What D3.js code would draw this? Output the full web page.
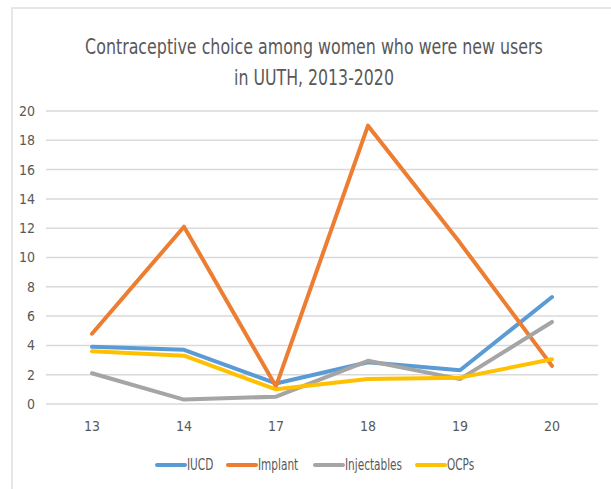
<!DOCTYPE html>
<html>
<head>
<meta charset="utf-8">
<script src="https://cdn.jsdelivr.net/npm/d3@7"></script>
<style>
  body { margin: 0; background: #fff; }
  svg text { font-family: "DejaVu Sans Condensed", "Liberation Sans Narrow", sans-serif; fill: #595959; }
</style>
</head>
<body>
<div id="chart"></div>
<script>
// data
const years = ["13", "14", "17", "18", "19", "20"];
const iucd = [3.9, 3.7, 1.4, 2.85, 2.3, 7.3];
const implant = [4.8, 12.1, 1.2, 19.0, 11.0, 2.6];
const injectables = [2.1, 0.3, 0.5, 2.95, 1.7, 5.6];
const ocps = [3.6, 3.3, 1.0, 1.7, 1.8, 3.05];
const yTicks = [0, 2, 4, 6, 8, 10, 12, 14, 16, 18, 20];
const titleLines = ["Contraceptive choice among women who were new users", "in UUTH, 2013-2020"];

const series = [
    { name: "IUCD", values: iucd, color: "#5B9BD5" },
    { name: "Implant", values: implant, color: "#ED7D31" },
    { name: "Injectables", values: injectables, color: "#A5A5A5" },
    { name: "OCPs", values: ocps, color: "#FFC000" }
];

const width = 611, height = 489;
const margin = {top: 111, right: 13, bottom: 85, left: 46};

const svg = d3.select("#chart")
    .append("svg")
    .attr("width", width)
    .attr("height", height);

// chart area border (only top and left visible in the crop)
svg.append("path")
    .attr("d", `M12,${height} L12,8 L${width},8`)
    .attr("fill", "none")
    .attr("stroke", "#e6e6e6")
    .attr("stroke-width", 2);

// title - squeeze horizontally to get the narrow Calibri look
const titleWidths = [458, 160];
const titleCx = 314;
svg.append("g")
    .selectAll("text")
    .data(titleLines)
    .join("text")
        .attr("x", 0)
        .attr("y", 0)
        .attr("text-anchor", "middle")
        .style("font-size", "21px")
        .text(d => d)
        .attr("transform", function(d, i) {
            const sx = titleWidths[i] / this.getComputedTextLength();
            return `translate(${titleCx}, ${54 + i * 31}) scale(${sx}, 1)`;
        });

const x = d3.scaleBand()
    .domain(years)
    .range([margin.left, width - margin.right]);

const y = d3.scaleLinear()
    .domain([0, 20])
    .range([height - margin.bottom, margin.top]);

// gridlines
svg.append("g")
    .selectAll("line")
    .data(yTicks)
    .join("line")
        .attr("x1", margin.left)
        .attr("x2", width - margin.right)
        .attr("y1", d => y(d))
        .attr("y2", d => y(d))
        .attr("stroke", "#d9d9d9")
        .attr("stroke-width", 1.5);

// y labels
svg.append("g")
    .selectAll("text")
    .data(yTicks)
    .join("text")
        .attr("x", 35)
        .attr("y", d => y(d))
        .attr("dy", "0.35em")
        .attr("text-anchor", "end")
        .style("font-size", "14px")
        .text(d => d);

// x labels
svg.append("g")
    .selectAll("text")
    .data(years)
    .join("text")
        .attr("x", d => x(d) + x.bandwidth() / 2)
        .attr("y", 431)
        .attr("text-anchor", "middle")
        .style("font-size", "14px")
        .text(d => d);

const line = d3.line()
    .x((d, i) => x(years[i]) + x.bandwidth() / 2)
    .y(d => y(d));

// series lines
svg.append("g")
    .selectAll("path")
    .data(series)
    .join("path")
        .attr("d", d => line(d.values))
        .attr("fill", "none")
        .attr("stroke", d => d.color)
        .attr("stroke-width", 4)
        .attr("stroke-linejoin", "round")
        .attr("stroke-linecap", "round");

// legend
const legendX = [157, 228, 315, 417];
const legend = svg.append("g")
    .selectAll("g")
    .data(series)
    .join("g")
        .attr("transform", (d, i) => `translate(${legendX[i]}, 465)`);

legend.append("line")
    .attr("x1", 0)
    .attr("x2", 28)
    .attr("stroke", d => d.color)
    .attr("stroke-width", 4)
    .attr("stroke-linecap", "round");

legend.append("text")
    .attr("dy", "0.35em")
    .attr("transform", "translate(30, 0) scale(0.78, 1)")
    .style("font-size", "15px")
    .text(d => d.name);
</script>
</body>
</html>
